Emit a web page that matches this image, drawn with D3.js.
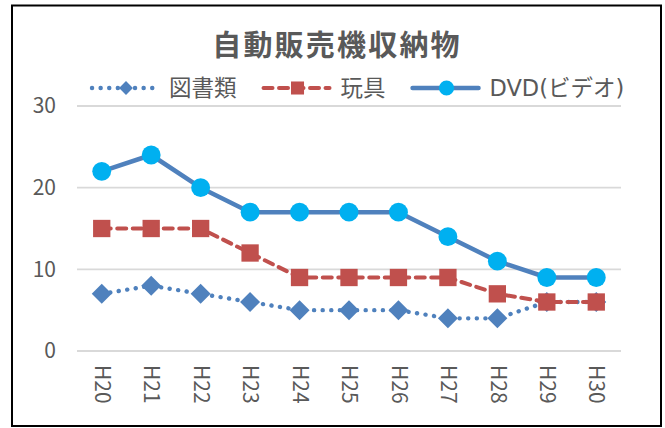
<!DOCTYPE html>
<html lang="ja">
<head>
<meta charset="utf-8">
<script src="https://cdn.jsdelivr.net/npm/d3@7"></script>
<style>
  html, body { margin: 0; padding: 0; background: #fff; }
  svg { display: block; }
  text { font-family: "Noto Sans CJK JP", "Noto Sans", sans-serif; fill: #595959; }
</style>
</head>
<body>
<svg id="chart" width="665" height="428"></svg>
<script>
// データ
const years = ["H20", "H21", "H22", "H23", "H24", "H25", "H26", "H27", "H28", "H29", "H30"];
const books = [7, 8, 7, 6, 5, 5, 5, 4, 4, 6, 6];
const toys = [15, 15, 15, 12, 9, 9, 9, 9, 7, 6, 6];
const dvd = [22, 24, 20, 17, 17, 17, 17, 14, 11, 9, 9];
const yTicks = [0, 10, 20, 30];
const seriesNames = ["図書類", "玩具", "DVD(ビデオ)"];
const title = "自動販売機収納物";

// 系列ごとの見た目 (マーカーは symbolSquare、ひし形は45度回転)
const series = [
  { name: seriesNames[0], values: books, line: "#4F81BD", marker: "#4F81BD", shape: d3.symbolSquare, rot: 45, size: 200, legendSize: 95, dash: "0.1,8.5", width: 4.4 },
  { name: seriesNames[1], values: toys, line: "#C0504D", marker: "#C0504D", shape: d3.symbolSquare, rot: 0, size: 300, legendSize: 170, dash: "9,6.5", width: 4 },
  { name: seriesNames[2], values: dvd, line: "#4F81BD", marker: "#00B0F0", shape: d3.symbolCircle, rot: 0, size: 280, legendSize: 180, dash: null, width: 4.5 }
];

const svg = d3.select("#chart");

// 外枠
svg.append("rect")
  .attr("x", 12).attr("y", 5.5)
  .attr("width", 649).attr("height", 420.5)
  .attr("fill", "#fff")
  .attr("stroke", "#000")
  .attr("stroke-width", 2);

const x = d3.scalePoint().domain(years).range([77, 621]).padding(0.5);
const y = d3.scaleLinear().domain([0, 30]).range([351, 106]);

// 目盛線
svg.append("g")
  .selectAll("line")
  .data(yTicks)
  .enter()
  .append("line")
  .attr("x1", 77).attr("x2", 621)
  .attr("y1", (d) => y(d)).attr("y2", (d) => y(d))
  .attr("stroke", "#d9d9d9")
  .attr("stroke-width", 1.8);

// Y軸
const yAxis = svg.append("g")
  .attr("transform", "translate(56,0)")
  .call(d3.axisLeft(y).tickValues(yTicks).tickSize(0).tickPadding(0));
yAxis.select(".domain").remove();
yAxis.selectAll("text")
  .attr("font-size", 21)
  .attr("fill", "#595959")
  .style("font-family", '"Noto Sans CJK JP", sans-serif');

// X軸 (90度回転)
const xAxis = svg.append("g")
  .attr("transform", "translate(0,351)")
  .call(d3.axisBottom(x).tickSize(0).tickPadding(0));
xAxis.select(".domain").remove();
xAxis.selectAll("text")
  .attr("font-size", 21)
  .attr("fill", "#595959")
  .style("font-family", '"Noto Sans CJK JP", sans-serif')
  .attr("text-anchor", "start")
  .attr("y", 0)
  .attr("dy", "0.35em")
  .attr("transform", "translate(0,14) rotate(90)");

// 系列
const line = d3.line().x((d, i) => x(years[i])).y((d) => y(d));
series.forEach((s) => {
  const g = svg.append("g");
  g.append("path")
    .datum(s.values)
    .attr("d", line)
    .attr("fill", "none")
    .attr("stroke", s.line)
    .attr("stroke-width", s.width)
    .attr("stroke-linecap", "round")
    .attr("stroke-linejoin", "round")
    .attr("stroke-dasharray", s.dash);
  g.selectAll("path.marker")
    .data(s.values)
    .enter()
    .append("path")
    .attr("class", "marker")
    .attr("d", d3.symbol().type(s.shape).size(s.size))
    .attr("transform", (d, i) => `translate(${x(years[i])},${y(d)}) rotate(${s.rot})`)
    .attr("fill", s.marker);
});

// タイトル
svg.append("text")
  .attr("x", 337).attr("y", 56)
  .attr("text-anchor", "middle")
  .attr("font-size", 29)
  .attr("font-weight", "bold")
  .attr("letter-spacing", 2.2)
  .text(title);

// 凡例
const legendY = 88;
let lx = 92;
series.forEach((s) => {
  const g = svg.append("g");
  g.append("line")
    .attr("x1", lx).attr("x2", lx + 66)
    .attr("y1", legendY).attr("y2", legendY)
    .attr("stroke", s.line)
    .attr("stroke-width", s.width)
    .attr("stroke-linecap", "round")
    .attr("stroke-dasharray", s.dash);
  g.append("path")
    .attr("d", d3.symbol().type(s.shape).size(s.legendSize))
    .attr("transform", `translate(${lx + 34},${legendY}) rotate(${s.rot})`)
    .attr("fill", s.marker);
  const t = g.append("text")
    .attr("x", lx + 77).attr("y", legendY + 8)
    .attr("font-size", 22.5)
    .style("font-family", '"DejaVu Sans", "Noto Sans CJK JP", sans-serif')
    .text(s.name);
  lx = lx + 77 + t.node().getComputedTextLength() + 27;
});
</script>
</body>
</html>
